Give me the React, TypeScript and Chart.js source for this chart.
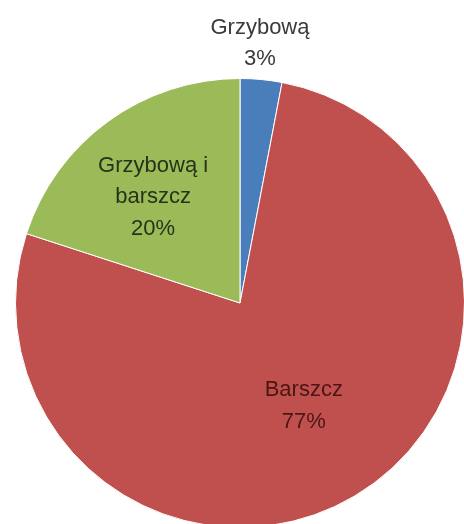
import React, { useEffect, useRef } from "react";
import { Chart, registerables } from "chart.js";

Chart.register(...registerables);

const categories = ["Grzybową", "Barszcz", "Grzybową i barszcz"];
const labelLines = [["Grzybową", "3%"], ["Barszcz", "77%"], ["Grzybową i", "barszcz", "20%"]];
const values = [3, 77, 20];
const colors = ["#4a7ebb", "#c0504d", "#9bbb59"];
const textColors = ["#3a3a3a", "#4a1616", "#26331a"];

// label anchor offsets relative to pie centre, in units of radius
const labelOffsets = [
  [0.089, -1.156],
  [0.284, 0.458],
  [-0.387, -0.471],
];

const labelPlugin = {
  id: "sliceLabels",
  afterDatasetsDraw(chart: any) {
    const ctx = chart.ctx;
    const meta = chart.getDatasetMeta(0);
    ctx.save();
    ctx.font = "22px 'Liberation Sans', Arial, sans-serif";
    ctx.textAlign = "center";
    ctx.textBaseline = "middle";
    const lh = 31.5;
    meta.data.forEach((arc: any, i: number) => {
      const r = arc.outerRadius;
      const cx = arc.x + labelOffsets[i][0] * r;
      const cy = arc.y + labelOffsets[i][1] * r;
      const lines = labelLines[i];
      const y0 = cy - ((lines.length - 1) * lh) / 2;
      ctx.fillStyle = textColors[i];
      lines.forEach((t, k) => ctx.fillText(t, cx, y0 + k * lh));
    });
    ctx.restore();
  },
};

export default function App() {
  const ref = useRef<HTMLCanvasElement>(null);
  useEffect(() => {
    if (!ref.current) return;
    const chart = new Chart(ref.current, {
      type: "pie",
      data: {
        labels: categories,
        datasets: [
          {
            data: values,
            backgroundColor: colors,
            borderColor: "#ffffff",
            borderWidth: 1,
          },
        ],
      },
      options: {
        responsive: false,
        animation: false,
        layout: { padding: { left: 15, top: 78, right: 15, bottom: 12 } },
        plugins: { legend: { display: false }, tooltip: { enabled: false } },
      },
      plugins: [labelPlugin],
    });
    return () => chart.destroy();
  }, []);
  return (
    <div
      style={{
        position: "fixed",
        left: 0,
        top: 0,
        width: 464,
        height: 524,
        overflow: "hidden",
        background: "#ffffff",
      }}
    >
      <canvas ref={ref} width={480} height={540} style={{ position: "absolute", left: 0, top: 0 }} />
    </div>
  );
}
